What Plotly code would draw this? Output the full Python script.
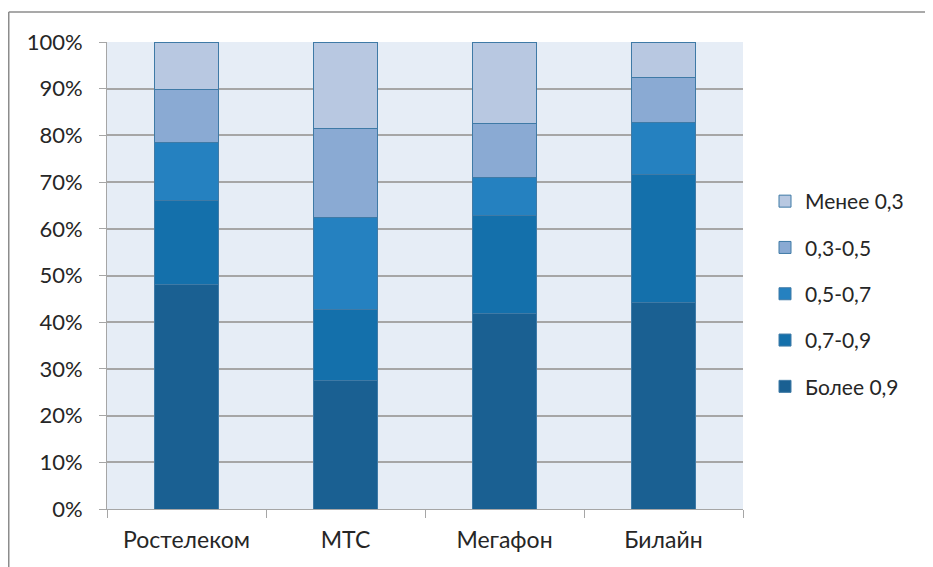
import plotly.graph_objects as go

categories = ["Ростелеком", "МТС", "Мегафон", "Билайн"]
series_names = ["Более 0,9", "0,7-0,9", "0,5-0,7", "0,3-0,5", "Менее 0,3"]
s_more09 = [48.0, 27.6, 41.9, 44.3]
s_07_09 = [18.1, 15.2, 21.0, 27.4]
s_05_07 = [12.3, 19.6, 8.0, 11.0]
s_03_05 = [11.5, 19.0, 11.7, 9.6]
s_less03 = [10.1, 18.6, 17.4, 7.7]
series_values = [s_more09, s_07_09, s_05_07, s_03_05, s_less03]
colors = ["#1a6092", "#1470ab", "#2581c0", "#8aaad3", "#b8c8e1"]
tick_vals = [0, 10, 20, 30, 40, 50, 60, 70, 80, 90, 100]
tick_text = [f"{v}%" for v in tick_vals]

FONT = "Lato"
fig = go.Figure()
for i, (name, vals, col) in enumerate(zip(series_names, series_values, colors)):
    fig.add_trace(go.Bar(
        x=categories, y=vals, name=name, legendgroup=name,
        legendrank=1000 - i,
        marker=dict(color=col, line=dict(color="#3f7aa6", width=1)),
        width=0.4,
    ))

W, H = 925, 559
L, R, T, B = 99, 190, 34, 58
pw, ph = W - L - R, H - T - B

def px_x(x):
    return (x - L) / pw

def px_y(y):
    return (H - B - y) / ph

fig.update_layout(
    width=W, height=H,
    margin=dict(l=L, r=R, t=T, b=B),
    barmode="stack",
    paper_bgcolor="white",
    plot_bgcolor="#e6edf6",
    font=dict(family=FONT, size=18, color="#262626"),
    legend=dict(
        x=px_x(757), xanchor="left", y=px_y(173), yanchor="top",
        traceorder="grouped", tracegroupgap=16,
        font=dict(size=21, color="#262626"),
        itemwidth=30,
    ),
    showlegend=True,
)
fig.update_xaxes(
    showgrid=False, showline=True, linecolor="#a6a6a6", linewidth=1,
    ticks="outside", ticklen=8, tickcolor="#a6a6a6",
    tickson="boundaries", tickfont=dict(size=23),
    ticklabelstandoff=10,
)
fig.update_yaxes(
    range=[0, 100], tickvals=tick_vals, ticktext=tick_text,
    showgrid=True, gridcolor="#a6a6a6", gridwidth=1.5,
    showline=True, linecolor="#a6a6a6", linewidth=1,
    ticks="outside", ticklen=7, tickcolor="#a6a6a6",
    tickfont=dict(size=22), zeroline=False,
    ticklabelstandoff=12,
)
# outer chart frame (top and left edges visible)
fig.add_shape(type="line", xref="paper", yref="paper",
              x0=px_x(0.75), x1=px_x(W), y0=px_y(4), y1=px_y(4),
              line=dict(color="#8c8c8c", width=1.5))
fig.add_shape(type="line", xref="paper", yref="paper",
              x0=px_x(0.75), x1=px_x(0.75), y0=px_y(4), y1=px_y(H),
              line=dict(color="#8c8c8c", width=1.5))

fig.write_html("out.html", config={"displayModeBar": False})
